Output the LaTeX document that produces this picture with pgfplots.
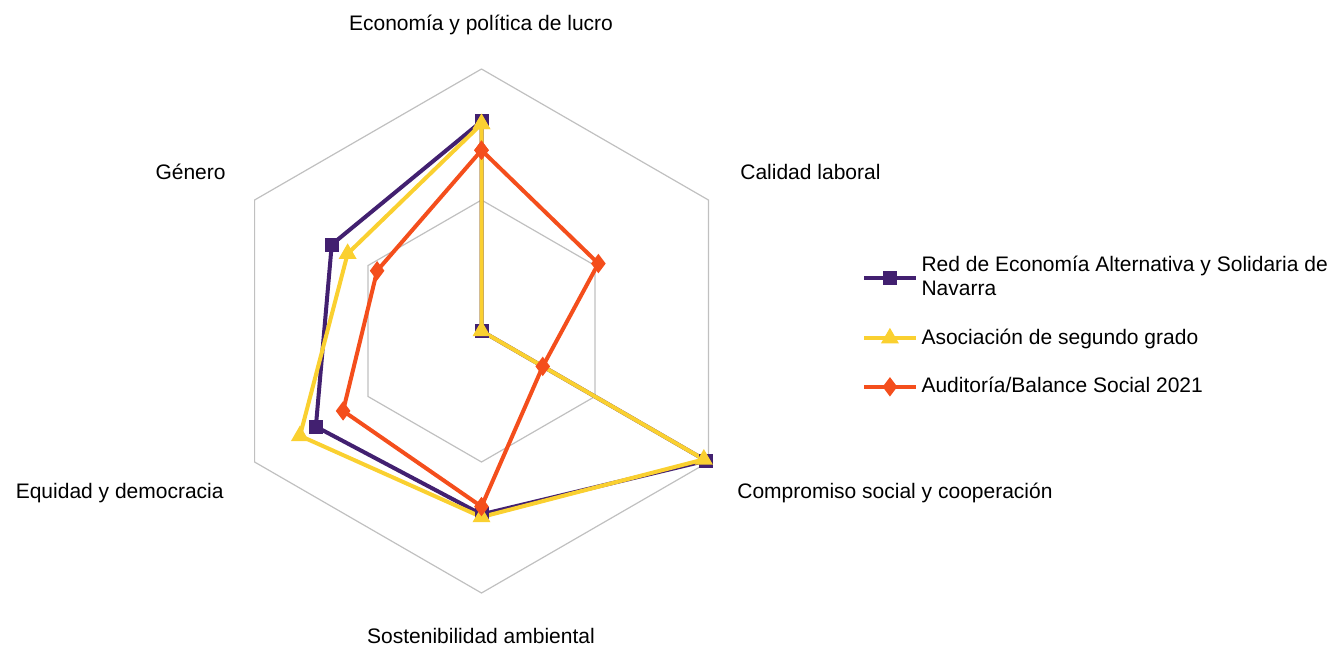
\documentclass[border=0pt]{standalone}
\usepackage{fontspec}
\setmainfont{Liberation Sans}
\usepackage{pgfplots}
\pgfplotsset{compat=1.18}
\definecolor{cpurple}{RGB}{66,32,112}
\definecolor{cyellow}{RGB}{250,208,48}
\definecolor{cred}{RGB}{244,78,28}
\definecolor{cgrid}{RGB}{192,192,192}
\begin{document}
\begin{tikzpicture}
\fontsize{10.5}{12}\selectfont
\path[use as bounding box] (0,0) rectangle (666.5pt,325pt);
\begin{axis}[
  at={(240.75pt,159.5pt)}, anchor=center,
  scale only axis, width=262pt, height=262pt,
  xmin=-1, xmax=1, ymin=-1, ymax=1,
  hide axis, clip=false,
  data cs=polar,
  legend style={at={(1.226,0.651)}, anchor=north west, draw=none, fill=none,
    font=\fontsize{10.5}{12}\selectfont, row sep=11pt,
    cells={align=left}, inner sep=0pt},
  legend cell align=left,
  legend image code/.code={\draw[mark repeat=2,mark phase=2] plot coordinates {(0cm,0cm) (0.45cm,0cm) (0.9cm,0cm)};},
]
% grid rings
\addplot[cgrid, line width=0.6pt, forget plot] coordinates {(90,1) (30,1) (-30,1) (-90,1) (-150,1) (150,1) (90,1)};
\addplot[cgrid, line width=0.6pt, forget plot] coordinates {(90,0.5) (30,0.5) (-30,0.5) (-90,0.5) (-150,0.5) (150,0.5) (90,0.5)};
% series
\addplot[cpurple, line width=2pt, mark=square*, mark size=2.5pt, mark options={fill=cpurple}] coordinates {
 (90,0.80) (30,0) (-30,0.99) (-90,0.70) (-150,0.73) (150,0.66) (90,0.80)};
\addlegendentry{Red de Economía Alternativa y Solidaria de\\Navarra}
\addplot[cyellow, line width=2pt, mark=triangle*, mark size=3.2pt, mark options={fill=cyellow}] coordinates {
 (90,0.79) (30,0) (-30,0.98) (-90,0.71) (-150,0.80) (150,0.59) (90,0.79)};
\addlegendentry{Asociación de segundo grado}
\addplot[cred, line width=2pt, mark=diamond*, mark size=3.2pt, mark options={fill=cred}] coordinates {
 (90,0.69) (30,0.515) (-30,0.27) (-90,0.67) (-150,0.61) (150,0.46) (90,0.69)};
\addlegendentry{Auditoría/Balance Social 2021}
\end{axis}
\node[inner sep=0pt, anchor=center] at (240.5pt,312.5pt) {Economía y política de lucro};
\node[inner sep=0pt, anchor=west] at (370pt,239pt) {Calidad laboral};
\node[inner sep=0pt, anchor=west] at (368.5pt,78.5pt) {Compromiso social y cooperación};
\node[inner sep=0pt, anchor=center] at (240.5pt,7pt) {Sostenibilidad ambiental};
\node[inner sep=0pt, anchor=east] at (112pt,78.5pt) {Equidad y democracia};
\node[inner sep=0pt, anchor=east] at (113pt,239pt) {Género};
\end{tikzpicture}
\end{document}
